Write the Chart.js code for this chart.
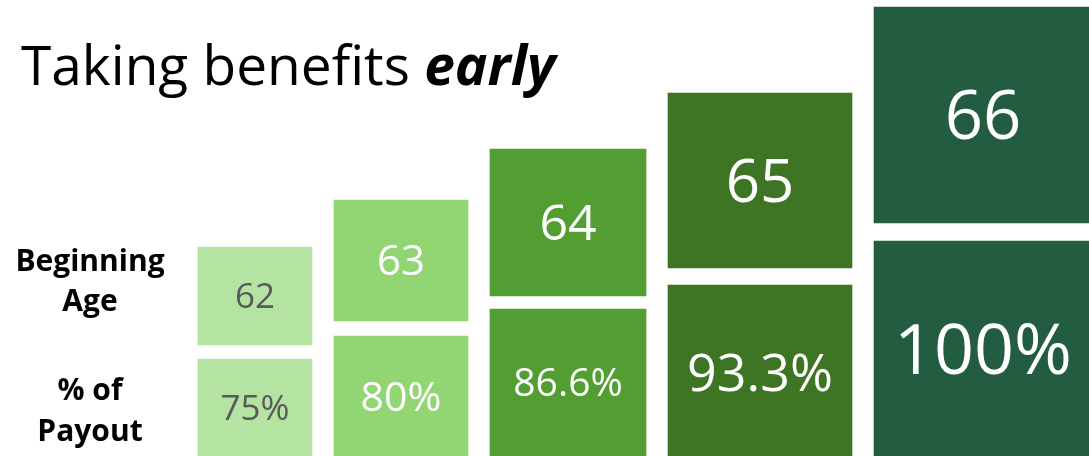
<!DOCTYPE html>
<html>
<head>
<meta charset="utf-8">
<script src="https://cdn.jsdelivr.net/npm/chart.js@4/dist/chart.umd.min.js"></script>
<style>
  html, body { margin: 0; padding: 0; background: #fff; }
  #wrap { width: 1089px; height: 456px; position: relative; }
</style>
</head>
<body>
<div id="wrap"><canvas id="chart-early"></canvas></div>
<script>
    // ─── Data ───────────────────────────────────────────────────────────
    const ages = [62, 63, 64, 65, 66];
    const payouts = [75, 80, 86.6, 93.3, 100];
    const rowLabels = [['Beginning', 'Age'], ['% of', 'Payout']];
    const titleText = 'Taking benefits ';
    const titleEmph = 'early';

    // ─── Layout / style ─────────────────────────────────────────────────
    const boxColors  = ['#b5e3a2', '#92d674', '#529e32', '#3e7524', '#225d41'];
    const textColors = ['#595959', '#ffffff', '#ffffff', '#ffffff', '#ffffff'];
    const boxW    = [114, 134, 156, 184, 218];
    const boxH    = [98, 121, 147, 175, 216];
    const ageTop  = [247, 200, 149, 93, 7];
    const rowGap  = [14, 15, 13, 17, 18];
    const ageFont = [35, 42, 50, 60, 67];
    const payFont = [35, 41, 39, 52, 70];
    const firstLeft = 198, colGap = 22;
    const W = 1089, H = 456;
    const FONT = '"Open Sans", sans-serif';

    // column centres, laid out left to right
    const centers = [];
    let left = firstLeft;
    boxW.forEach(w => { centers.push(left + w / 2); left += w + colGap; });

    const datasets = ages.map((age, i) => {
        const payTop = ageTop[i] + boxH[i] + rowGap[i];
        return {
            label: 'Age ' + age,
            data: [
                { x: centers[i], y: [ageTop[i], ageTop[i] + boxH[i]] },
                { x: centers[i], y: [payTop, payTop + boxH[i]] }
            ],
            backgroundColor: boxColors[i],
            borderWidth: 0,
            barThickness: boxW[i],
            grouped: false
        };
    });

    function capText(ctx, txt, x, cy, size, weight, color) {
        ctx.font = `${weight} ${size}px ${FONT}`;
        ctx.fillStyle = color;
        ctx.textAlign = 'center';
        ctx.textBaseline = 'alphabetic';
        ctx.fillText(txt, x, cy + size * 0.357);
    }

    const boxLabels = {
        id: 'boxLabels',
        afterDatasetsDraw(chart) {
            const ctx = chart.ctx;
            ctx.save();
            chart.data.datasets.forEach((ds, i) => {
                chart.getDatasetMeta(i).data.forEach((bar, j) => {
                    const p = bar.getProps(['x', 'y', 'base'], true);
                    const cy = (p.y + p.base) / 2;
                    if (j === 0) capText(ctx, String(ages[i]), p.x, cy, ageFont[i], 400, textColors[i]);
                    else capText(ctx, payouts[i] + '%', p.x, cy, payFont[i], 400, textColors[i]);
                });
            });
            ctx.restore();
        }
    };

    const headings = {
        id: 'headings',
        afterDraw(chart) {
            const ctx = chart.ctx;
            ctx.save();
            ctx.fillStyle = '#000';
            ctx.textBaseline = 'alphabetic';
            ctx.textAlign = 'left';
            ctx.font = `400 55px ${FONT}`;
            ctx.fillText(titleText, 21, 85);
            const tw = ctx.measureText(titleText).width;
            ctx.font = `italic 700 55px ${FONT}`;
            ctx.fillText(titleEmph, 21 + tw, 85);

            ctx.textAlign = 'center';
            ctx.font = `700 30px ${FONT}`;
            const baselines = [[271, 311], [400, 441]];
            rowLabels.forEach((lines, r) => {
                lines.forEach((ln, k) => ctx.fillText(ln, 90, baselines[r][k]));
            });
            ctx.restore();
        }
    };

    new Chart(document.getElementById('chart-early'), {
        type: 'bar',
        data: { datasets },
        options: {
            responsive: true,
            maintainAspectRatio: false,
            animation: false,
            layout: { padding: 0 },
            plugins: { legend: { display: false }, tooltip: { enabled: false } },
            scales: {
                x: { type: 'linear', min: 0, max: W, offset: false, display: false },
                y: { type: 'linear', min: 0, max: H, reverse: true, display: false }
            }
        },
        plugins: [boxLabels, headings]
    });
</script>
</body>
</html>
